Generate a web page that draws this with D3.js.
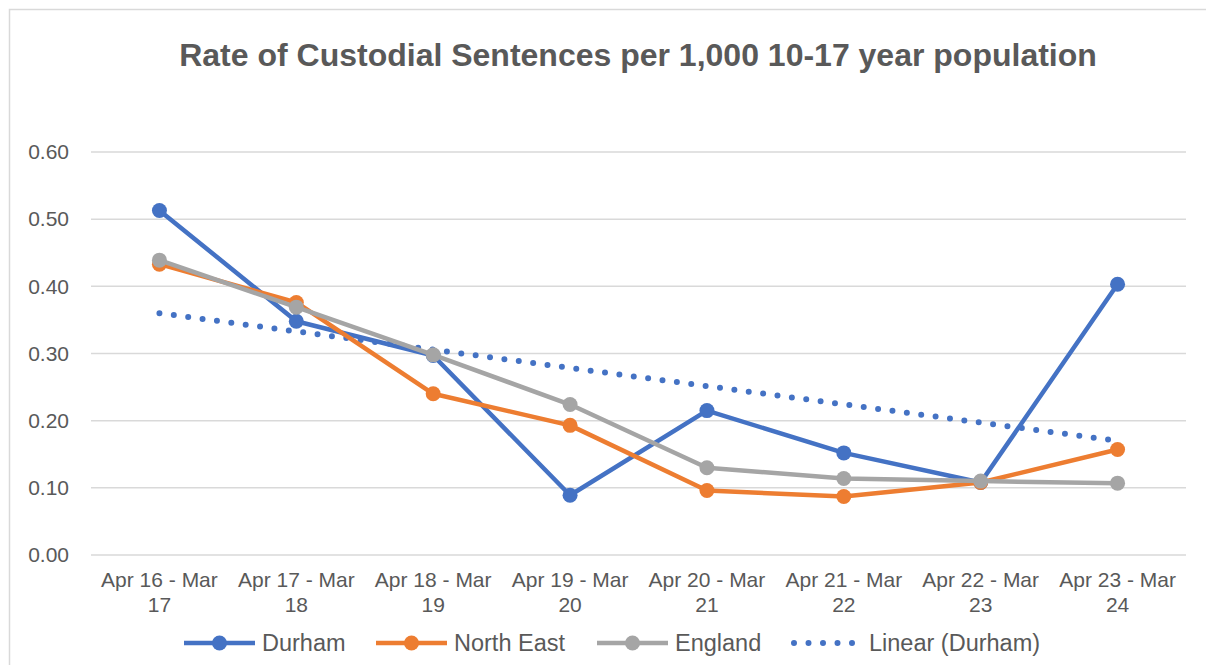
<!DOCTYPE html>
<html>
<head>
<meta charset="utf-8">
<script src="https://cdn.jsdelivr.net/npm/d3@7"></script>
<style>
  body { margin: 0; background: #fff; }
  svg { font-family: "Liberation Sans", Arial, sans-serif; }
</style>
</head>
<body>
<svg width="1206" height="665"></svg>
<script>
var periods = ["Apr 16 - Mar 17", "Apr 17 - Mar 18", "Apr 18 - Mar 19", "Apr 19 - Mar 20",
               "Apr 20 - Mar 21", "Apr 21 - Mar 22", "Apr 22 - Mar 23", "Apr 23 - Mar 24"];
var durham    = [0.513, 0.348, 0.297, 0.089, 0.215, 0.152, 0.108, 0.403];
var northEast = [0.433, 0.376, 0.240, 0.193, 0.096, 0.087, 0.108, 0.157];
var england   = [0.439, 0.369, 0.298, 0.224, 0.130, 0.114, 0.110, 0.107];
// linear trendline of Durham, start and end values
var trendEnds = [0.360, 0.170];
var yTicks = [0, 0.1, 0.2, 0.3, 0.4, 0.5, 0.6];

var svg = d3.select("svg"),
    margin = {top: 152, right: 20, bottom: 110, left: 91},
    width = 1186 - margin.left,
    height = 555 - margin.top,
    g = svg.append("g").attr("transform", "translate(" + margin.left + "," + margin.top + ")");

// chart border
svg.append("path")
    .attr("d", "M9.5,670V9.5H1210")
    .attr("fill", "none")
    .attr("stroke", "#d9d9d9")
    .attr("stroke-width", 1.5);

svg.append("text")
    .attr("x", 638)
    .attr("y", 66)
    .attr("text-anchor", "middle")
    .attr("font-size", 32)
    .attr("font-weight", "bold")
    .attr("fill", "#595959")
    .text("Rate of Custodial Sentences per 1,000 10-17 year population");

var x = d3.scaleBand().domain(periods).range([0, width]);
var y = d3.scaleLinear().domain([0, 0.6]).range([height, 0]);

// gridlines
g.append("g")
    .selectAll("line")
    .data(yTicks)
    .enter().append("line")
    .attr("x1", 0).attr("x2", width)
    .attr("y1", function(d) { return y(d); })
    .attr("y2", function(d) { return y(d); })
    .attr("stroke", "#d9d9d9")
    .attr("stroke-width", 1.5);

var yAxis = g.append("g")
    .call(d3.axisLeft(y).tickValues(yTicks).tickFormat(d3.format(".2f")).tickSize(0).tickPadding(22));
yAxis.select(".domain").remove();
yAxis.selectAll("text")
    .attr("font-size", 21)
    .attr("fill", "#595959")
    .attr("font-family", "Liberation Sans, Arial, sans-serif");

var xAxis = g.append("g")
    .attr("transform", "translate(0," + height + ")")
    .call(d3.axisBottom(x).tickSize(0).tickFormat(""));
xAxis.select(".domain").remove();
xAxis.selectAll(".tick").each(function(d) {
  var parts = d.split(" - Mar ");
  var t = d3.select(this).append("text")
      .attr("text-anchor", "middle")
      .attr("font-size", 21)
      .attr("font-family", "Liberation Sans, Arial, sans-serif")
      .attr("fill", "#595959");
  t.append("tspan").attr("x", 0).attr("y", 32).text(parts[0] + " - Mar");
  t.append("tspan").attr("x", 0).attr("y", 57).text(parts[1]);
});

var cx = function(i) { return x(periods[i]) + x.bandwidth() / 2; };

var series = [
  {name: "Durham", values: durham, color: "#4472c4"},
  {name: "North East", values: northEast, color: "#ed7d31"},
  {name: "England", values: england, color: "#a5a5a5"}
];

var line = d3.line()
    .x(function(d, i) { return cx(i); })
    .y(function(d) { return y(d); });

// trendline
g.append("line")
    .attr("x1", cx(0)).attr("y1", y(trendEnds[0]))
    .attr("x2", cx(periods.length - 1)).attr("y2", y(trendEnds[1]))
    .attr("stroke", "#4472c4")
    .attr("stroke-width", 6)
    .attr("stroke-linecap", "round")
    .attr("stroke-dasharray", "0 14.5");

series.forEach(function(s) {
  g.append("path")
      .datum(s.values)
      .attr("fill", "none")
      .attr("stroke", s.color)
      .attr("stroke-width", 4.5)
      .attr("stroke-linejoin", "round")
      .attr("d", line);
  g.append("g").selectAll("circle")
      .data(s.values)
      .enter().append("circle")
      .attr("cx", function(d, i) { return cx(i); })
      .attr("cy", function(d) { return y(d); })
      .attr("r", 7.5)
      .attr("fill", s.color);
});

// legend
var legendItems = [
  {name: "Durham", color: "#4472c4", x: 184},
  {name: "North East", color: "#ed7d31", x: 376},
  {name: "England", color: "#a5a5a5", x: 597},
  {name: "Linear (Durham)", color: "#4472c4", x: 791, dotted: true}
];
var legend = svg.append("g").attr("transform", "translate(0,643)");
legendItems.forEach(function(d) {
  if (d.dotted) {
    legend.append("line")
        .attr("x1", d.x + 3).attr("x2", d.x + 66)
        .attr("stroke", d.color)
        .attr("stroke-width", 6)
        .attr("stroke-linecap", "round")
        .attr("stroke-dasharray", "0 14.5");
  } else {
    legend.append("line")
        .attr("x1", d.x).attr("x2", d.x + 71)
        .attr("stroke", d.color)
        .attr("stroke-width", 4.5);
    legend.append("circle")
        .attr("cx", d.x + 35.5).attr("r", 7.5)
        .attr("fill", d.color);
  }
  legend.append("text")
      .attr("x", d.x + 78)
      .attr("dy", "0.35em")
      .attr("font-size", 23.5)
      .attr("fill", "#595959")
      .text(d.name);
});
</script>
</body>
</html>
